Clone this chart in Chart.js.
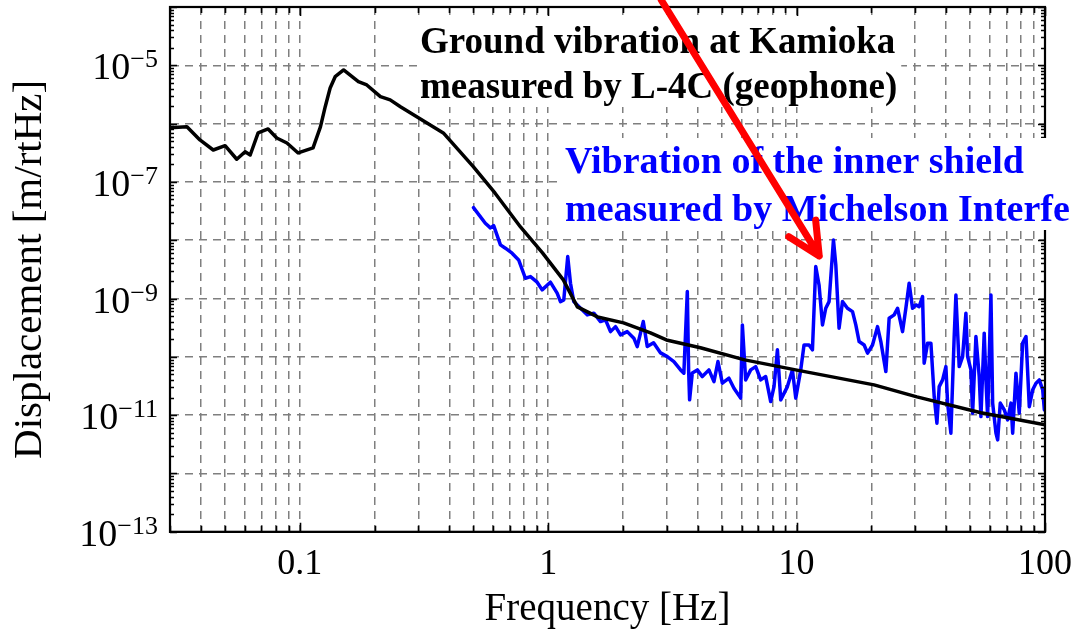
<!DOCTYPE html>
<html>
<head>
<meta charset="utf-8">
<script src="https://cdn.jsdelivr.net/npm/chart.js@4/dist/chart.umd.min.js"></script>
<style>
html,body{margin:0;padding:0;background:#fff;}
#wrap{width:1074px;height:637px;position:relative;}
</style>
</head>
<body>
<div id="wrap"><canvas id="c"></canvas></div>
<script>
// ---- data ----
const groundFreq = [0.03,0.0351,0.0396,0.0448,0.050,0.0557,0.0602,0.0631,0.0679,0.0745,0.0807,0.0887,0.0984,0.113,0.121,0.1265,0.1324,0.1387,0.150,0.172,0.186,0.211,0.231,0.254,0.378,0.500,0.610,0.773,0.948,1.15,1.31,1.58,2.01,2.58,2.99,4.10,6.18,9.91,20.5,30.5,55.2,100];
const groundDisp = [8.53e-7,8.87e-7,5.25e-7,3.53e-7,4.19e-7,2.45e-7,3.30e-7,2.90e-7,6.92e-7,8.09e-7,5.68e-7,4.66e-7,3.14e-7,3.83e-7,8.77e-7,1.95e-6,4.08e-6,6.38e-6,8.32e-6,5.24e-6,4.60e-6,2.90e-6,2.55e-6,1.95e-6,6.92e-7,1.81e-7,6.47e-8,1.69e-8,6.07e-9,2.09e-9,7.19e-10,4.84e-10,3.83e-10,2.58e-10,1.95e-10,1.43e-10,8.87e-11,5.98e-11,3.31e-11,2.06e-11,1.10e-11,6.82e-12];

const shieldFreq = [0.50,0.558,0.585,0.603,0.642,0.672,0.715,0.760,0.809,0.848,0.902,0.945,1.02,1.086,1.12,1.155,1.198,1.229,1.267,1.349,1.435,1.526,1.623,1.701,1.781,1.866,1.954,2.080,2.211,2.282,2.413,2.504,2.655,2.833,3.015,3.205,3.410,3.516,3.630,3.674,3.708,3.802,3.983,4.172,4.436,4.647,4.823,5.023,5.340,5.594,5.953,6.047,6.234,6.531,6.842,7.166,7.507,7.864,8.109,8.369,8.630,9.182,9.618,9.92,10.39,10.71,11.22,11.58,11.94,12.31,12.71,13.10,13.51,14.07,14.38,14.82,15.30,16.02,16.79,17.31,17.85,18.70,19.30,20.21,21.17,21.83,22.87,23.58,24.70,25.49,26.70,27.53,28.38,29.29,30.20,31.14,32.14,32.62,33.67,34.72,35.80,36.71,37.50,38.70,39.90,40.53,41.79,43.09,43.78,45.14,46.59,48.04,48.80,50.31,51.12,52.71,54.35,55.21,56.92,57.83,58.75,60.58,61.55,63.46,64.48,66.05,68.55,70.74,72.95,74.10,76.40,78.77,81.29,83.84,86.45,89.22,91.99,94.85,97.88,99.4];
const shieldDisp = [3.62e-8,1.96e-8,1.63e-8,1.78e-8,8.32e-9,7.30e-9,5.99e-9,4.60e-9,2.23e-9,2.38e-9,1.91e-9,1.41e-9,1.91e-9,1.24e-9,8.87e-10,9.48e-10,5.24e-9,1.83e-9,8.87e-10,6.83e-10,5.25e-10,5.61e-10,4.03e-10,4.31e-10,2.71e-10,3.30e-10,2.38e-10,2.71e-10,2.09e-10,1.50e-10,4.03e-10,1.50e-10,1.74e-10,1.17e-10,1.01e-10,8.30e-11,5.98e-11,5.25e-11,1.32e-9,5.98e-11,1.83e-11,5.31e-11,5.98e-11,4.59e-11,5.98e-11,3.77e-11,8.30e-11,3.54e-11,4.31e-11,2.90e-11,1.96e-11,3.53e-10,4.03e-11,5.98e-11,6.81e-11,4.03e-11,4.59e-11,1.71e-11,3.09e-11,1.32e-10,1.83e-11,3.09e-11,5.98e-11,1.96e-11,5.98e-11,1.60e-10,1.60e-10,1.32e-10,3.53e-9,1.71e-9,3.53e-10,6.83e-10,8.87e-10,1.01e-8,3.77e-9,3.10e-10,8.87e-10,6.83e-10,5.97e-10,3.53e-10,1.83e-10,1.60e-10,1.16e-10,1.60e-10,3.30e-10,1.83e-10,5.59e-11,4.60e-10,5.25e-10,6.83e-10,2.71e-10,6.83e-10,1.83e-9,6.83e-10,7.78e-10,7.28e-10,1.08e-9,7.79e-11,1.72e-10,1.72e-10,2.09e-11,7.29e-12,3.09e-11,4.03e-11,6.81e-11,1.61e-11,4.92e-12,2.23e-10,1.15e-9,6.81e-11,1.01e-10,5.61e-10,1.01e-10,5.98e-11,1.08e-11,2.23e-10,4.59e-11,9.47e-12,2.55e-10,4.03e-11,9.47e-12,1.15e-9,1.61e-11,4.92e-12,3.77e-12,1.61e-11,1.23e-11,8.31e-12,1.61e-11,4.92e-12,5.25e-11,1.08e-11,1.72e-10,2.23e-10,1.40e-11,2.72e-11,3.54e-11,4.03e-11,2.72e-11,1.23e-11];

const xGridValues = [0.03,0.04,0.05,0.06,0.07,0.08,0.09,0.1,0.2,0.3,0.4,0.5,0.6,0.7,0.8,0.9,1,2,3,4,5,6,7,8,9,10,20,30,40,50,60,70,80,90,100];
const xTickLabels = [0.1, 1, 10, 100];
const yGridExponents = [-13,-12,-11,-10,-9,-8,-7,-6,-5,-4];
const yLabelExponents = [-13,-11,-9,-7,-5];
const xTitle = 'Frequency [Hz]';
const yTitle = 'Displacement [m/rtHz]';
const noteGround = ['Ground vibration at Kamioka', 'measured by L-4C (geophone)'];
const noteShield = ['Vibration of the inner shield', 'measured by Michelson Interfe'];
const arrowFrom = {x: 2.85, y: 1.32e-4};
const arrowTo = {x: 12.33, y: 5.38e-9};

const SERIF = "'Liberation Serif', 'Times New Roman', serif";

const overlay = {
  id: 'overlay',
  afterDraw(chart) {
    const ctx = chart.ctx;
    const a = chart.chartArea;
    const xs = chart.scales.x, ys = chart.scales.y;
    ctx.save();
    // frame
    ctx.strokeStyle = '#000';
    ctx.lineWidth = 2.2;
    ctx.strokeRect(a.left, a.top, a.right - a.left, a.bottom - a.top);
    // x ticks (bottom & top, pointing inward)
    ctx.lineWidth = 1.6;
    ctx.beginPath();
    xGridValues.forEach(v => {
      const px = Math.round(xs.getPixelForValue(v)) + 0.5;
      const major = xTickLabels.includes(v);
      const len = major ? 9 : 6;
      ctx.moveTo(px, a.bottom); ctx.lineTo(px, a.bottom - len);
      ctx.moveTo(px, a.top); ctx.lineTo(px, a.top + len);
    });
    // y ticks (left & right)
    yGridExponents.forEach(e => {
      for (let k = 1; k <= 9; k++) {
        const v = k * Math.pow(10, e);
        if (v > 1e-4 * 1.0001) continue;
        const py = Math.round(ys.getPixelForValue(v)) + 0.5;
        const len = k === 1 ? 7 : 4;
        ctx.moveTo(a.left, py); ctx.lineTo(a.left + len, py);
        ctx.moveTo(a.right, py); ctx.lineTo(a.right - len, py);
      }
    });
    ctx.stroke();

    // tick labels
    ctx.fillStyle = '#000';
    ctx.textBaseline = 'alphabetic';
    ctx.font = '36px ' + SERIF;
    ctx.textAlign = 'center';
    xTickLabels.forEach(v => {
      const px = xs.getPixelForValue(v);
      ctx.fillText(String(v), px, a.bottom + 42);
    });
    ctx.textAlign = 'left';
    yLabelExponents.forEach(e => {
      const py = ys.getPixelForValue(Math.pow(10, e));
      const expStr = '\u2212' + Math.abs(e);
      ctx.font = '26px ' + SERIF;
      const ew = ctx.measureText(expStr).width;
      ctx.font = '38px ' + SERIF;
      const bw = ctx.measureText('10').width;
      const right = a.left - 12;
      ctx.fillText('10', right - ew - bw, py + 14);
      ctx.font = '26px ' + SERIF;
      ctx.fillText(expStr, right - ew, py + 2);
    });

    // annotation notes with white background
    function note(lines, x, baselines, color, size, boxRight) {
      ctx.font = 'bold ' + size + 'px ' + SERIF;
      let w = 0;
      lines.forEach(t => { w = Math.max(w, ctx.measureText(t).width); });
      const top = baselines[0] - 35;
      const bottom = baselines[baselines.length - 1] + 9;
      const right = boxRight !== undefined ? boxRight : x + w + 4;
      ctx.fillStyle = '#fff';
      ctx.fillRect(x - 3, top, right - (x - 3), bottom - top);
      ctx.fillStyle = color;
      ctx.textAlign = 'left';
      lines.forEach((t, i) => ctx.fillText(t, x, baselines[i]));
    }
    note(noteGround, a.left + 250, [a.top + 46, a.top + 91], '#000', 37);
    note(noteShield, a.left + 395, [a.top + 166, a.top + 214], '#0000ff', 38, chart.width);

    // red arrow
    const x0 = xs.getPixelForValue(arrowFrom.x), y0 = ys.getPixelForValue(arrowFrom.y);
    const x1 = xs.getPixelForValue(arrowTo.x), y1 = ys.getPixelForValue(arrowTo.y);
    const ang = Math.atan2(y0 - y1, x0 - x1);
    const hl = 36, spread = 26 * Math.PI / 180;
    ctx.strokeStyle = '#ff0000';
    ctx.lineWidth = 7;
    ctx.lineCap = 'round';
    ctx.lineJoin = 'round';
    ctx.beginPath();
    ctx.moveTo(x0, y0); ctx.lineTo(x1, y1);
    ctx.moveTo(x1 + hl * Math.cos(ang - spread), y1 + hl * Math.sin(ang - spread));
    ctx.lineTo(x1, y1);
    ctx.lineTo(x1 + hl * Math.cos(ang + spread), y1 + hl * Math.sin(ang + spread));
    ctx.stroke();
    ctx.restore();
  }
};

new Chart(document.getElementById('c'), {
  type: 'line',
  data: {
    datasets: [
      {
        label: 'Ground vibration (L-4C)',
        data: groundFreq.map((f, i) => ({x: f, y: groundDisp[i]})),
        borderColor: '#000000',
        borderWidth: 3.5,
        borderJoinStyle: 'round',
        borderCapStyle: 'round',
        pointRadius: 0,
        tension: 0,
        fill: false
      },
      {
        label: 'Inner shield (Michelson)',
        data: shieldFreq.map((f, i) => ({x: f, y: shieldDisp[i]})),
        borderColor: '#0000ff',
        borderWidth: 3.5,
        borderJoinStyle: 'round',
        borderCapStyle: 'round',
        pointRadius: 0,
        tension: 0,
        fill: false
      }
    ]
  },
  options: {
    responsive: true,
    maintainAspectRatio: false,
    devicePixelRatio: 1,
    animation: false,
    layout: {autoPadding: false, padding: {left: 0, right: 29, top: 7, bottom: 0}},
    plugins: {legend: {display: false}, tooltip: {enabled: false}},
    scales: {
      x: {
        type: 'logarithmic',
        min: 0.03, max: 100,
        afterBuildTicks: s => { s.ticks = xGridValues.map(v => ({value: v})); },
        ticks: {display: false},
        grid: {color: '#7f7f7f', lineWidth: 1.5, drawTicks: false},
        border: {display: true, color: '#000', width: 2, dash: [8, 6]},
        title: {display: true, text: xTitle, color: '#000', font: {family: SERIF, size: 39}, padding: {top: 54.4, bottom: 4}}
      },
      y: {
        type: 'logarithmic',
        min: 1e-13, max: 1e-4,
        afterBuildTicks: s => { s.ticks = yGridExponents.map(e => ({value: Math.pow(10, e)})); },
        ticks: {display: false},
        grid: {color: '#7f7f7f', lineWidth: 1.5, drawTicks: false},
        border: {display: true, color: '#000', width: 2, dash: [8, 6]},
        title: {display: true, text: yTitle, color: '#000', font: {family: SERIF, size: 41}, padding: {top: 5.4, bottom: 115.4}}
      }
    }
  },
  plugins: [overlay]
});
</script>
</body>
</html>
